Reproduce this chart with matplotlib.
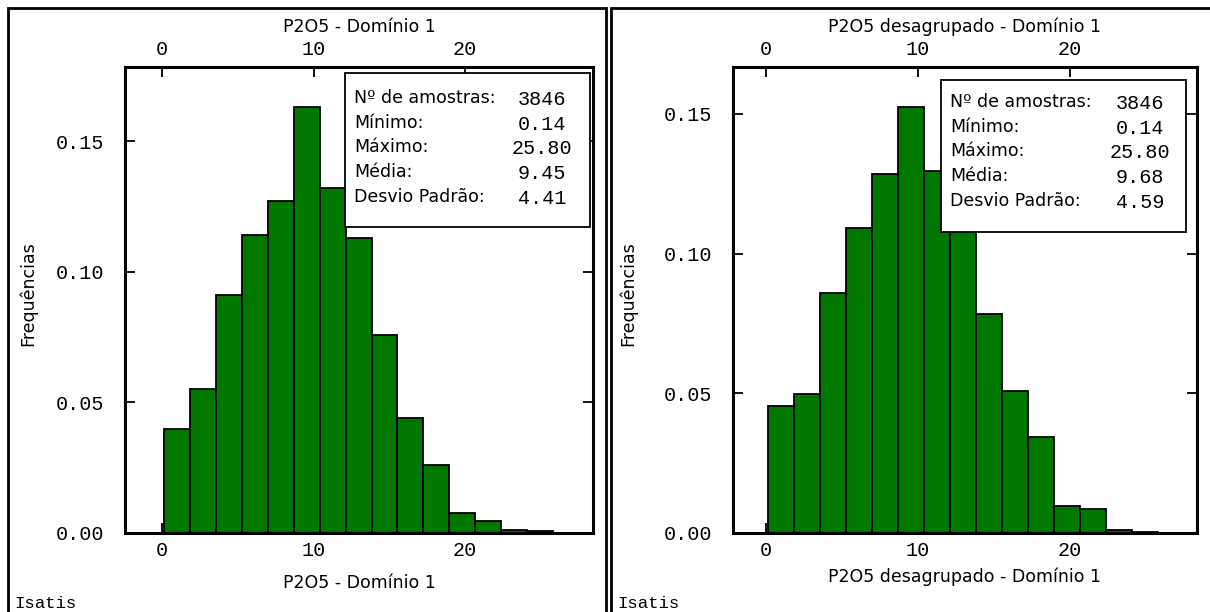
import matplotlib.pyplot as plt
import numpy as np
from matplotlib.patches import Rectangle

# classes do histograma (min, max e numero de classes)
bin_min = 0.14
bin_max = 25.80
n_bins = 15

freq_left = [0.040, 0.055, 0.091, 0.114, 0.127, 0.163, 0.132, 0.113,
             0.076, 0.044, 0.026, 0.0076, 0.0046, 0.0013, 0.0007]
freq_right = [0.0455, 0.0498, 0.0859, 0.1092, 0.1285, 0.1525, 0.1296, 0.115,
              0.0784, 0.051, 0.0343, 0.0097, 0.0086, 0.0010, 0.0004]

titles = ["P2O5 - Domínio 1", "P2O5 desagrupado - Domínio 1"]
ylabel = "Frequências"
stat_names = ["Nº de amostras:", "Mínimo:", "Máximo:", "Média:", "Desvio Padrão:"]
stats_left = ["3846", "0.14", "25.80", "9.45", "4.41"]
stats_right = ["3846", "0.14", "25.80", "9.68", "4.59"]
xticks = [0, 10, 20]
yticks_left = [0.00, 0.05, 0.10, 0.15]
yticks_right = [0.00, 0.05, 0.10, 0.15]

W, H = 1210, 612
fig = plt.figure(figsize=(W / 100, H / 100), dpi=100)
mono = "Liberation Mono"
sans = "DejaVu Sans"
green = "#007800"


def fx(x):
    return x / W


def fy(y):
    return 1 - y / H


edges = np.linspace(bin_min, bin_max, n_bins + 1)

panels = [
    dict(box=(125, 67, 593, 533), xlim=(-2.45, 28.45), ylim=(0, 0.1785),
         sbox=(345, 73, 590, 227), freq=freq_left, stats=stats_left,
         yticks=yticks_left, title=titles[0], xlab_y=583, ylab_x=28,
         frame=(8, 8, 606, 620), isatis=14, rows=(98, 24.7), vcx=542),
    dict(box=(733, 67, 1197, 533), xlim=(-2.17, 28.36), ylim=(0, 0.1668),
         sbox=(941, 80, 1186, 232), freq=freq_right, stats=stats_right,
         yticks=yticks_right, title=titles[1], xlab_y=577, ylab_x=628,
         frame=(611, 8, 1220, 620), isatis=617, rows=(102, 24.7), vcx=1140),
]

for p in panels:
    x0, y0, x1, y1 = p["box"]
    ax = fig.add_axes([fx(x0), fy(y1), (x1 - x0) / W, (y1 - y0) / H])
    ax.bar(edges[:-1], p["freq"], width=np.diff(edges), align="edge",
           color=green, edgecolor="black", linewidth=1.3, zorder=2)
    ax.set_xlim(*p["xlim"])
    ax.set_ylim(*p["ylim"])
    ax.set_xticks(xticks)
    ax.set_yticks(p["yticks"])
    ax.set_yticklabels(["%.2f" % v for v in p["yticks"]])
    ax.tick_params(direction="in", top=True, right=True, labeltop=True,
                   length=7, width=1.3, labelsize=14.5, zorder=3)
    ax.tick_params(axis="x", pad=6)
    ax.tick_params(axis="y", pad=15)
    for lab in ax.get_xticklabels() + ax.get_yticklabels():
        lab.set_fontfamily(mono)
    for s in ax.spines.values():
        s.set_linewidth(2.2)
        s.set_zorder(4)

    # caixa de estatisticas
    sx0, sy0, sx1, sy1 = p["sbox"]
    fig.add_artist(Rectangle((fx(sx0), fy(sy1)), (sx1 - sx0) / W, (sy1 - sy0) / H,
                             transform=fig.transFigure, facecolor="white",
                             edgecolor="black", linewidth=1.3, zorder=5))
    r0, dr = p["rows"]
    for i, (name, val) in enumerate(zip(stat_names, p["stats"])):
        yy = r0 + i * dr
        fig.text(fx(sx0 + 9), fy(yy), name, family=sans, fontsize=12.5,
                 ha="left", va="center", zorder=6)
        fig.text(fx(p["vcx"]), fy(yy + 1.5), val, family=mono, fontsize=14.5,
                 ha="center", va="center", zorder=6)

    cx = (x0 + x1) / 2
    fig.text(fx(cx), fy(27), p["title"], family=sans, fontsize=12.5,
             ha="center", va="center")
    fig.text(fx(cx), fy(p["xlab_y"]), p["title"], family=sans, fontsize=12.5,
             ha="center", va="center")
    fig.text(fx(p["ylab_x"]), fy((y0 + y1) / 2 - 6), ylabel, family=sans,
             fontsize=12.5, rotation=90, ha="center", va="center")
    fig.text(fx(p["isatis"]), fy(603), "Isatis", family=mono, fontsize=12.5,
             ha="left", va="center")

    fr = p["frame"]
    fig.add_artist(Rectangle((fx(fr[0]), fy(fr[3])), (fr[2] - fr[0]) / W,
                             (fr[3] - fr[1]) / H, transform=fig.transFigure,
                             fill=False, edgecolor="black", linewidth=2))

fig.savefig("out.png", dpi=100)
